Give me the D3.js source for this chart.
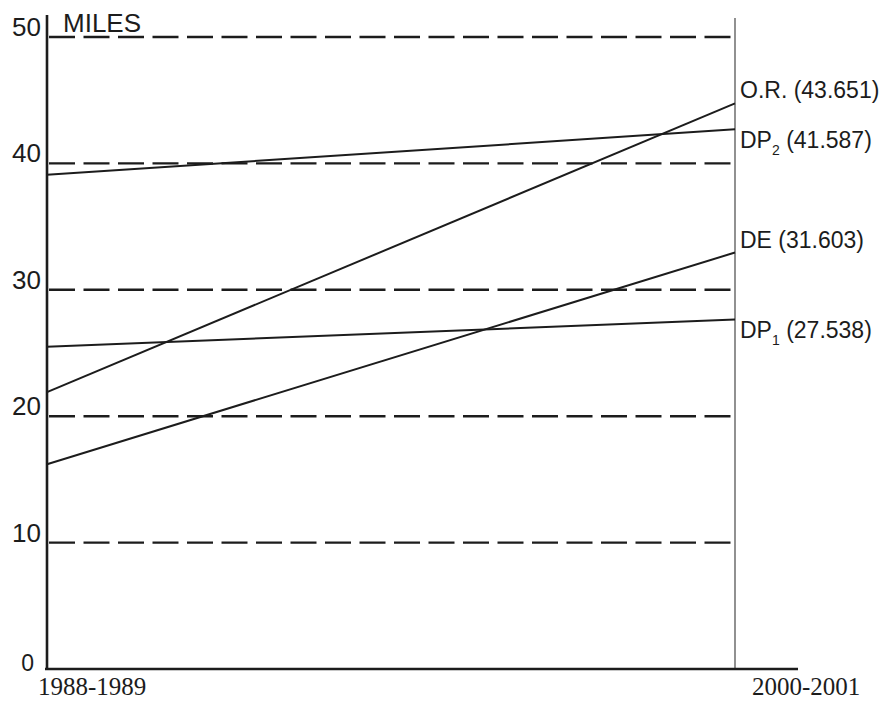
<!DOCTYPE html>
<html>
<head>
<meta charset="utf-8">
<script src="https://cdn.jsdelivr.net/npm/d3@7"></script>
<style>
  html, body { margin: 0; padding: 0; background: #fff; }
  svg { display: block; }
</style>
</head>
<body>
<div id="container"><svg></svg></div>
<script>
// data
const periods = ["1988-1989", "2000-2001"];
const milesTicks = [0, 10, 20, 30, 40, 50];
const seriesNames = ["O.R.", "DP2", "DE", "DP1"];
const seriesLabels = ["43.651", "41.587", "31.603", "27.538"];
const orMiles = [21.9, 44.75];
const dp2Miles = [39.1, 42.7];
const deMiles = [16.2, 32.95];
const dp1Miles = [25.5, 27.65];

const width = 885, height = 701;
const ink = "#1c1c1c";

let svg = d3.select('#container')
    .select('svg')
    .attr('width', width)
    .attr('height', height);

// scales
let x = d3.scalePoint().domain(periods).range([47, 735]);
let y = d3.scaleLinear().domain([0, 50]).range([669, 37]);

let series = [orMiles, dp2Miles, deMiles, dp1Miles].map((v, i) => ({
    name: seriesNames[i],
    label: seriesLabels[i],
    values: v.map((m, j) => ({ period: periods[j], miles: m }))
}));

// dashed grid lines
svg.append("g")
    .selectAll("line")
    .data(milesTicks.filter(d => d > 0))
    .join("line")
    .attr("x1", x(periods[0]) + 2)
    .attr("x2", x(periods[1]))
    .attr("y1", d => y(d))
    .attr("y2", d => y(d))
    .attr("stroke", ink)
    .attr("stroke-width", 2.4)
    .attr("stroke-dasharray", "26,8.5");

// right hand vertical
svg.append("line")
    .attr("x1", x(periods[1])).attr("x2", x(periods[1]))
    .attr("y1", 18).attr("y2", y(0))
    .attr("stroke", "#555")
    .attr("stroke-width", 1.3);

// axes
svg.append("line")
    .attr("x1", x(periods[0])).attr("x2", x(periods[0]))
    .attr("y1", 15).attr("y2", y(0) + 1)
    .attr("stroke", ink)
    .attr("stroke-width", 2.6);
svg.append("line")
    .attr("x1", x(periods[0]) - 2).attr("x2", 798)
    .attr("y1", y(0)).attr("y2", y(0))
    .attr("stroke", ink)
    .attr("stroke-width", 2.6);

// y tick labels
svg.append("g")
    .attr("font-family", "'Liberation Sans', Arial, sans-serif")
    .attr("fill", ink)
    .selectAll("text")
    .data(milesTicks)
    .join("text")
    .attr("text-anchor", "end")
    .attr("x", d => d == 0 ? 34 : 41)
    .attr("y", d => d == 0 ? y(d) + 2 : y(d) - 1)
    .attr("font-size", d => d == 0 ? 23 : 26)
    .text(d => d);

svg.append("text")
    .attr("x", 63)
    .attr("y", 32)
    .attr("font-family", "'Liberation Sans', Arial, sans-serif")
    .attr("font-size", 26)
    .attr("fill", ink)
    .text("MILES");

// x labels (serif, as in the source)
svg.append("g")
    .attr("font-family", "'Liberation Serif', 'Times New Roman', serif")
    .attr("font-size", 25)
    .attr("fill", ink)
    .selectAll("text")
    .data(periods)
    .join("text")
    .attr("x", (d, i) => i == 0 ? x(d) - 9 : x(d) + 17)
    .attr("y", 695)
    .text(d => d);

// series lines
let line = d3.line()
    .x(d => x(d.period))
    .y(d => y(d.miles));

svg.append("g")
    .selectAll("path")
    .data(series)
    .join("path")
    .attr("d", d => line(d.values))
    .attr("fill", "none")
    .attr("stroke", ink)
    .attr("stroke-width", 2);

// end labels, offset from the line end
const labelShift = { "O.R.": -5, "DP2": 19, "DE": -5, "DP1": 18 };
let lbl = svg.append("g")
    .attr("font-family", "'Liberation Sans', Arial, sans-serif")
    .attr("font-size", 23)
    .attr("fill", ink)
    .selectAll("text")
    .data(series)
    .join("text")
    .attr("x", 740)
    .attr("y", d => y(d.values[1].miles) + labelShift[d.name]);

lbl.each(function (d) {
    let t = d3.select(this);
    let m = d.name.match(/^(DP)(\d)$/);
    if (m) {
        t.append("tspan").text(m[1]);
        t.append("tspan").attr("font-size", 14).attr("dy", 7).text(m[2]);
        t.append("tspan").attr("dy", -7).text(" (" + d.label + ")");
    } else {
        t.text(d.name + " (" + d.label + ")");
    }
});
</script>
</body>
</html>
